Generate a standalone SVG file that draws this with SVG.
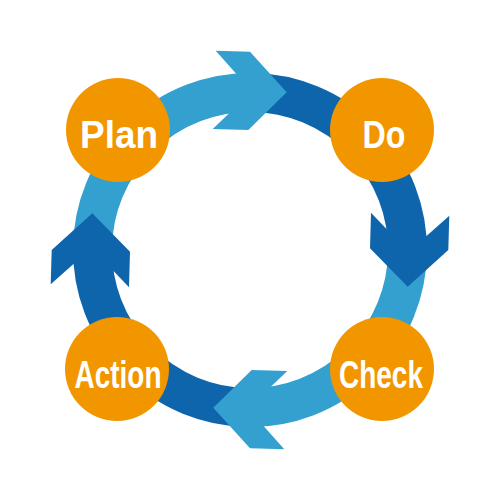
<svg xmlns="http://www.w3.org/2000/svg" xmlns:xlink="http://www.w3.org/1999/xlink" width="500" height="500" viewBox="0 0 500 500">
  <style>
    .band { fill: none; stroke-width: 39; stroke-linecap: butt; }
    .light { stroke: #33A0D0; }
    .dark { stroke: #0F65AB; }
    .lightf { fill: #33A0D0; }
    .darkf { fill: #0F65AB; }
    .node circle { fill: #F29600; }
    .node text { font-family: "Liberation Sans", Arial, sans-serif; font-weight: bold; font-size: 39px; fill: #FFFFFF; text-anchor: middle; }
  </style>
  <defs>
    <polygon id="chev" points="215.7,50.7 250,51.7 286.7,92.3 248.3,130 212.7,129 252,91.5"/>
  </defs>
  <rect width="500" height="500" fill="#FFFFFF"/>
  <g id="connectors">
    <path class="band light" d="M 92.51 248.02 A 157.5 157.5 0 0 1 251.98 92.51"/>
    <path class="band dark" d="M 251.98 92.51 A 157.5 157.5 0 0 1 407.49 251.98"/>
    <path class="band light" d="M 407.49 251.98 A 157.5 157.5 0 0 1 248.02 407.49"/>
    <path class="band dark" d="M 248.02 407.49 A 157.5 157.5 0 0 1 92.51 248.02"/>
    <use xlink:href="#chev" class="lightf"/>
    <use xlink:href="#chev" class="darkf" transform="rotate(90 250 250)"/>
    <use xlink:href="#chev" class="lightf" transform="rotate(180 250 250)"/>
    <use xlink:href="#chev" class="darkf" transform="rotate(270 250 250)"/>
  </g>
  <g id="plan" class="node">
    <circle cx="118" cy="130" r="52"/>
    <text x="119" y="148" textLength="78" lengthAdjust="spacingAndGlyphs">Plan</text>
  </g>
  <g id="do" class="node">
    <circle cx="382" cy="130" r="52"/>
    <text x="384" y="148" textLength="43" lengthAdjust="spacingAndGlyphs">Do</text>
  </g>
  <g id="check" class="node">
    <circle cx="382" cy="369" r="52"/>
    <text x="381" y="388" textLength="84" lengthAdjust="spacingAndGlyphs">Check</text>
  </g>
  <g id="action" class="node">
    <circle cx="117" cy="369" r="52"/>
    <text x="118" y="388" textLength="87" lengthAdjust="spacingAndGlyphs">Action</text>
  </g>
</svg>
